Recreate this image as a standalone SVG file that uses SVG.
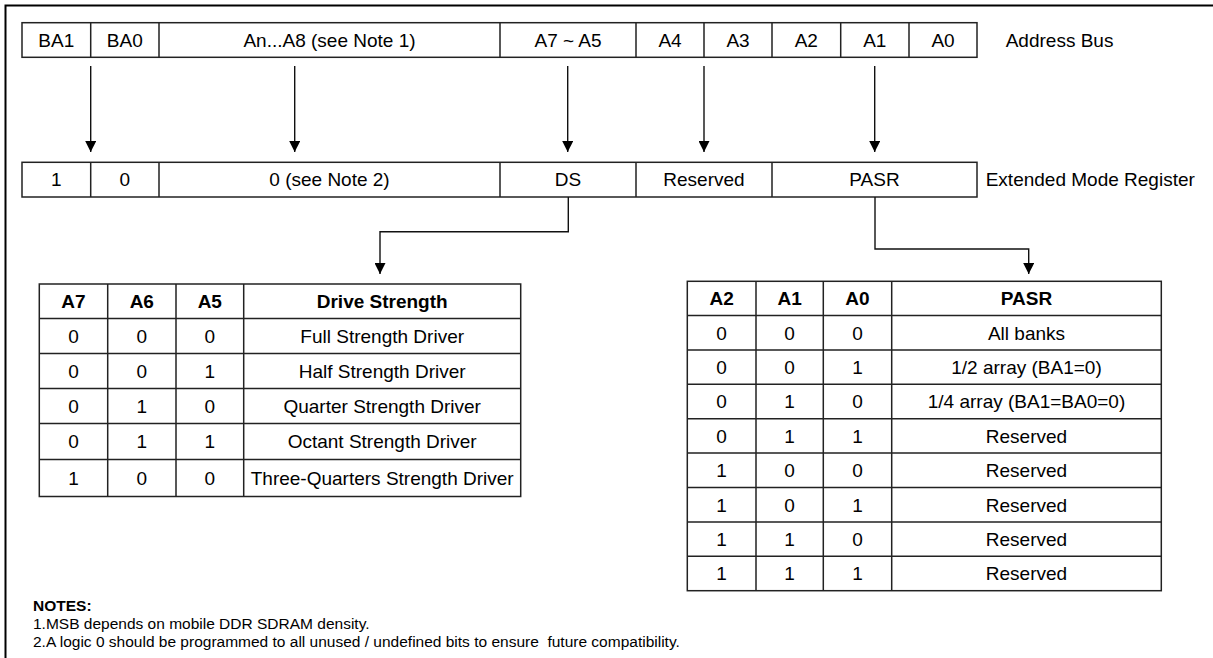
<svg xmlns="http://www.w3.org/2000/svg" width="1213" height="658" viewBox="0 0 1213 658">
<style>
.cell{fill:#fff;stroke:#222;stroke-width:1.5}
.grid{fill:none;stroke:#222;stroke-width:1.5}
.t{font-family:"Liberation Sans",Arial,Helvetica,sans-serif;font-size:19px;text-anchor:middle;fill:#000}
.lbl{font-family:"Liberation Sans",Arial,Helvetica,sans-serif;font-size:19px;fill:#000}
.b{font-weight:bold}
.conn{fill:none;stroke:#111;stroke-width:1.4}
.note{font-family:"Liberation Sans",Arial,Helvetica,sans-serif;font-size:15.5px;fill:#000}
</style>
<defs>
<marker id="ah" markerUnits="userSpaceOnUse" markerWidth="11" markerHeight="11" viewBox="0 0 10 10" refX="10" refY="5" orient="auto">
<path d="M0,0 L10,5 L0,10 z" fill="#000"/>
</marker>
</defs>
<rect width="1213" height="658" fill="#fff"/>
<g id="frame"><path d="M5.5,670 V5.5 H1220" fill="none" stroke="#000" stroke-width="2"/></g>

<g id="address-bus">
<rect class="cell" x="22" y="22.7" width="955" height="34.6"/>
<path class="grid" d="M90.7,22.7V57.3M159,22.7V57.3M500,22.7V57.3M636,22.7V57.3M704,22.7V57.3M772,22.7V57.3M840.7,22.7V57.3M909,22.7V57.3"/>
<text class="t" x="56.3" y="46.8">BA1</text>
<text class="t" x="124.8" y="46.8">BA0</text>
<text class="t" x="329.5" y="46.8">An...A8 (see Note 1)</text>
<text class="t" x="568" y="46.8">A7 ~ A5</text>
<text class="t" x="670" y="46.8">A4</text>
<text class="t" x="738" y="46.8">A3</text>
<text class="t" x="806.3" y="46.8">A2</text>
<text class="t" x="874.8" y="46.8">A1</text>
<text class="t" x="943" y="46.8">A0</text>
</g>
<g id="address-bus-label"><text class="lbl" x="1005.7" y="46.8">Address Bus</text></g>

<g id="emr">
<rect class="cell" x="22" y="162.3" width="955" height="34.7"/>
<path class="grid" d="M90.7,162.3V197M159,162.3V197M500,162.3V197M636,162.3V197M772,162.3V197"/>
<text class="t" x="56.3" y="186.4">1</text>
<text class="t" x="124.8" y="186.4">0</text>
<text class="t" x="329.5" y="186.4">0 (see Note 2)</text>
<text class="t" x="568" y="186.4">DS</text>
<text class="t" x="704" y="186.4">Reserved</text>
<text class="t" x="874.5" y="186.4">PASR</text>
</g>
<g id="emr-label"><text class="lbl" x="985.7" y="186.4">Extended Mode Register</text></g>

<g id="connectors">
<path class="conn" d="M90.7,66V152" marker-end="url(#ah)"/>
<path class="conn" d="M294.7,66V152" marker-end="url(#ah)"/>
<path class="conn" d="M567.7,66V152" marker-end="url(#ah)"/>
<path class="conn" d="M704,66V152" marker-end="url(#ah)"/>
<path class="conn" d="M874.7,66V152" marker-end="url(#ah)"/>
<path class="conn" d="M568.3,197V231.7H380V274" marker-end="url(#ah)"/>
<path class="conn" d="M875,197V249H1028.7V274" marker-end="url(#ah)"/>
</g>

<g id="drive-table">
<rect class="cell" x="39.3" y="284" width="481.4" height="212.5"/>
<path class="grid" d="M107.7,284V496.5M176,284V496.5M243.7,284V496.5M39.3,318.5H520.7M39.3,353.5H520.7M39.3,388.5H520.7M39.3,423.5H520.7M39.3,459.5H520.7"/>
<g class="t b">
<text x="73.5" y="308">A7</text><text x="141.8" y="308">A6</text><text x="209.8" y="308">A5</text><text x="382.2" y="308">Drive Strength</text>
</g>
<g class="t">
<text x="73.5" y="342.8">0</text><text x="141.8" y="342.8">0</text><text x="209.8" y="342.8">0</text><text x="382.2" y="342.8">Full Strength Driver</text>
<text x="73.5" y="377.8">0</text><text x="141.8" y="377.8">0</text><text x="209.8" y="377.8">1</text><text x="382.2" y="377.8">Half Strength Driver</text>
<text x="73.5" y="412.8">0</text><text x="141.8" y="412.8">1</text><text x="209.8" y="412.8">0</text><text x="382.2" y="412.8">Quarter Strength Driver</text>
<text x="73.5" y="448.3">0</text><text x="141.8" y="448.3">1</text><text x="209.8" y="448.3">1</text><text x="382.2" y="448.3">Octant Strength Driver</text>
<text x="73.5" y="484.8">1</text><text x="141.8" y="484.8">0</text><text x="209.8" y="484.8">0</text><text x="382.2" y="484.8">Three-Quarters Strength Driver</text>
</g>
</g>

<g id="pasr-table">
<rect class="cell" x="687.3" y="281.3" width="474" height="309.4"/>
<path class="grid" d="M756,281.3V590.7M823.3,281.3V590.7M891.7,281.3V590.7M687.3,315.5H1161.3M687.3,349.9H1161.3M687.3,384.3H1161.3M687.3,418.7H1161.3M687.3,453.1H1161.3M687.3,487.5H1161.3M687.3,521.9H1161.3M687.3,556.3H1161.3"/>
<g class="t b">
<text x="721.6" y="305.2">A2</text><text x="789.6" y="305.2">A1</text><text x="857.5" y="305.2">A0</text><text x="1026.5" y="305.2">PASR</text>
</g>
<g class="t">
<text x="721.6" y="339.5">0</text><text x="789.6" y="339.5">0</text><text x="857.5" y="339.5">0</text><text x="1026.5" y="339.5">All banks</text>
<text x="721.6" y="373.9">0</text><text x="789.6" y="373.9">0</text><text x="857.5" y="373.9">1</text><text x="1026.5" y="373.9">1/2 array (BA1=0)</text>
<text x="721.6" y="408.3">0</text><text x="789.6" y="408.3">1</text><text x="857.5" y="408.3">0</text><text x="1026.5" y="408.3">1/4 array (BA1=BA0=0)</text>
<text x="721.6" y="442.7">0</text><text x="789.6" y="442.7">1</text><text x="857.5" y="442.7">1</text><text x="1026.5" y="442.7">Reserved</text>
<text x="721.6" y="477.1">1</text><text x="789.6" y="477.1">0</text><text x="857.5" y="477.1">0</text><text x="1026.5" y="477.1">Reserved</text>
<text x="721.6" y="511.5">1</text><text x="789.6" y="511.5">0</text><text x="857.5" y="511.5">1</text><text x="1026.5" y="511.5">Reserved</text>
<text x="721.6" y="545.9">1</text><text x="789.6" y="545.9">1</text><text x="857.5" y="545.9">0</text><text x="1026.5" y="545.9">Reserved</text>
<text x="721.6" y="580.3">1</text><text x="789.6" y="580.3">1</text><text x="857.5" y="580.3">1</text><text x="1026.5" y="580.3">Reserved</text>
</g>
</g>

<g id="notes">
<text class="note b" x="33" y="610.7">NOTES:</text>
<text class="note" x="33" y="629">1.MSB depends on mobile DDR SDRAM density.</text>
<text class="note" x="33" y="646.7" xml:space="preserve">2.A logic 0 should be programmed to all unused / undefined bits to ensure  future compatibility.</text>
</g>
</svg>
